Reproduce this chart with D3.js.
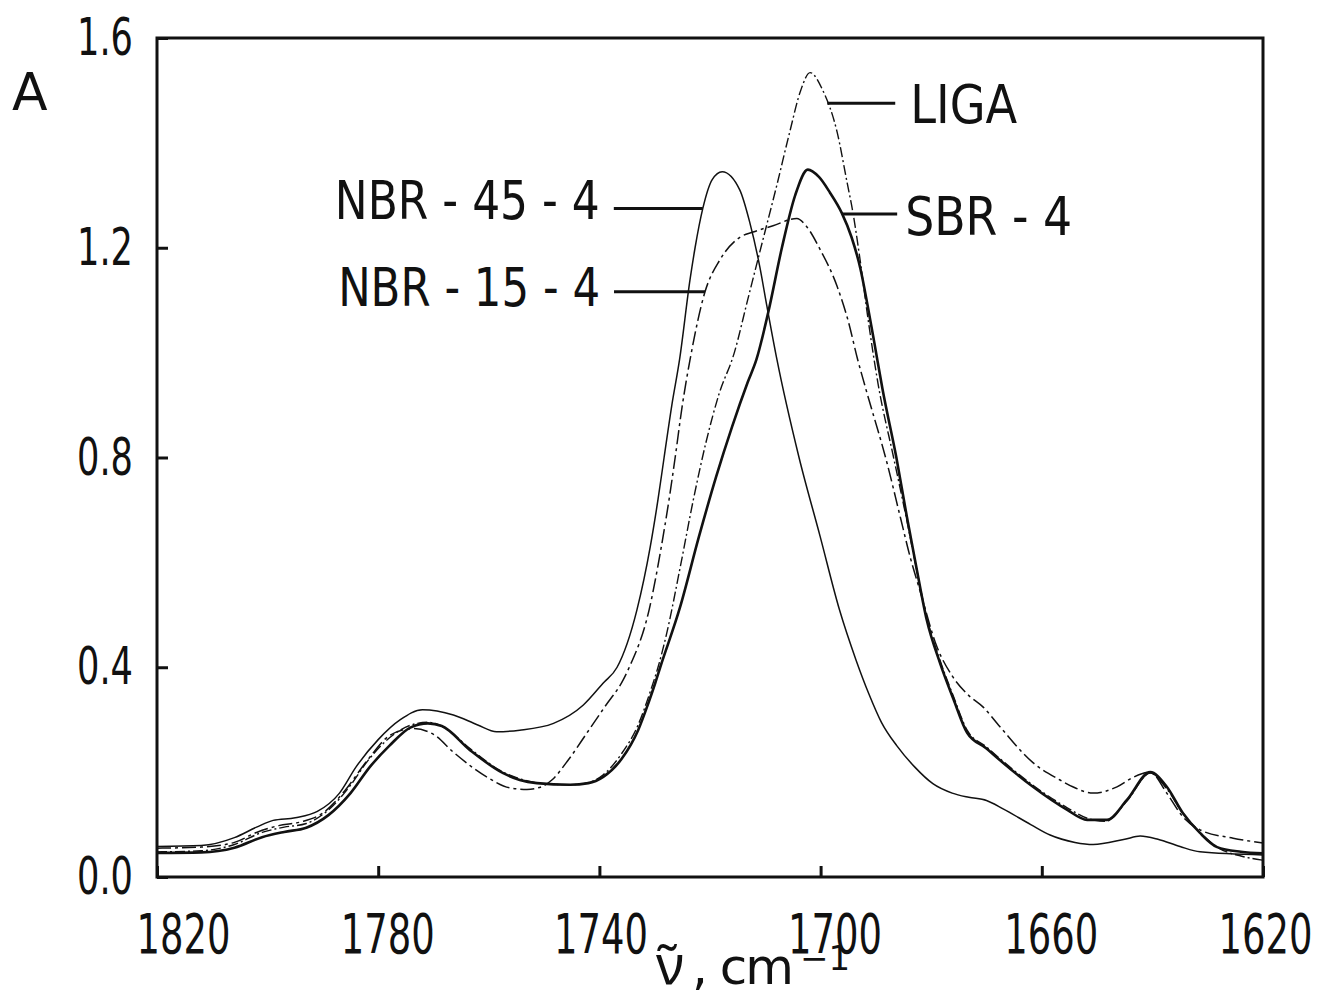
<!DOCTYPE html>
<html>
<head>
<meta charset="utf-8">
<script src="https://cdn.jsdelivr.net/npm/d3@7"></script>
<style>
  body { margin: 0; background: #fff; }
  svg text { font-family: "DejaVu Sans", sans-serif; fill: #111; }
</style>
</head>
<body>
<svg id="chart" width="1327" height="1002"></svg>
<script>
// Carbonyl-region IR absorbance spectra: [wavenumber cm-1, absorbance]
const LIGA = [
  [1820,0.048],[1812,0.05],[1806,0.062],[1801,0.085],[1797,0.095],[1793,0.102],[1789,0.128],
  [1785,0.175],[1782,0.22],[1778,0.265],[1774,0.29],[1771,0.295],[1768,0.285],[1763.4,0.245],
  [1757.4,0.2],[1754,0.186],[1750,0.178],[1745.3,0.176],[1742,0.18],[1739.3,0.195],[1736,0.235],
  [1733,0.29],[1730.6,0.36],[1729.4,0.4],[1727.8,0.466],[1725.4,0.59],[1723,0.72],[1720.7,0.83],
  [1718.4,0.92],[1715.6,1.0],[1713.2,1.1],[1710.8,1.2],[1707.9,1.32],[1705.6,1.42],[1703.6,1.5],
  [1701.9,1.534],[1699.6,1.5],[1697,1.42],[1695.2,1.324],[1694.2,1.27],[1692.9,1.18],
  [1691.5,1.07],[1689.6,0.94],[1686.8,0.8],[1684.6,0.69],[1682.7,0.59],[1680.8,0.495],
  [1678.3,0.41],[1676,0.345],[1673.5,0.28],[1670,0.248],[1667.6,0.226],[1661.6,0.175],
  [1655.4,0.132],[1651.8,0.112],[1648.5,0.106],[1644.6,0.145],[1640.4,0.198],[1637.4,0.168],
  [1634.5,0.122],[1631.4,0.085],[1628,0.055],[1624,0.04],[1620,0.032]
];
const SBR4 = [
  [1820,0.046],[1812,0.047],[1806,0.056],[1801,0.076],[1797,0.086],[1793,0.094],[1789,0.118],
  [1785,0.16],[1781.5,0.21],[1778,0.25],[1774.2,0.285],[1771,0.293],[1768.5,0.288],[1763.4,0.242],
  [1757.4,0.198],[1754.4,0.185],[1751.3,0.179],[1745.3,0.176],[1742,0.179],[1739.3,0.191],
  [1736,0.225],[1733,0.28],[1731.2,0.33],[1729.9,0.37],[1729,0.4],[1725.4,0.515],[1722,0.649],
  [1718.9,0.763],[1716,0.859],[1713.2,0.943],[1711.6,0.987],[1709.4,1.08],[1707,1.2],
  [1704.6,1.3],[1702.3,1.349],[1700.3,1.335],[1698.3,1.305],[1696.2,1.267],[1694.4,1.22],
  [1692.8,1.16],[1691.5,1.09],[1690.3,1.02],[1688.8,0.93],[1686.3,0.8],[1684.4,0.687],
  [1682.6,0.586],[1680.8,0.49],[1678.4,0.408],[1676,0.34],[1673.5,0.275],[1670,0.245],
  [1667.6,0.223],[1661.6,0.172],[1655.4,0.128],[1651.8,0.109],[1648.2,0.109],[1644.6,0.147],
  [1640.4,0.2],[1637.4,0.172],[1634.5,0.122],[1631.4,0.084],[1628.3,0.057],[1624,0.048],[1620,0.045]
];
const NBR45 = [
  [1820,0.058],[1812,0.06],[1806,0.075],[1802,0.095],[1799,0.108],[1795,0.113],[1791,0.125],
  [1787,0.16],[1784,0.21],[1780,0.262],[1776,0.3],[1772,0.319],[1766.4,0.309],[1762,0.29],
  [1758.6,0.277],[1754.4,0.28],[1748.3,0.293],[1742.9,0.328],[1739.3,0.37],[1736.8,0.4],
  [1733.2,0.51],[1730.8,0.63],[1729.4,0.72],[1728.3,0.8],[1726.9,0.9],[1725.5,0.987],
  [1723.6,1.14],[1722.7,1.2],[1721.3,1.275],[1719.6,1.33],[1717.8,1.345],[1714.6,1.31],
  [1712.8,1.248],[1711,1.164],[1709.7,1.088],[1707.9,0.987],[1703.9,0.8],[1700.1,0.65],
  [1696.6,0.51],[1693.6,0.414],[1691.3,0.35],[1689,0.295],[1686.2,0.25],[1683,0.21],
  [1679.7,0.178],[1676.2,0.16],[1673.2,0.152],[1670,0.146],[1667,0.13],[1662,0.1],
  [1658.5,0.08],[1654,0.066],[1650.7,0.062],[1645,0.072],[1642.2,0.078],[1639,0.072],
  [1635,0.058],[1631.4,0.048],[1620,0.042]
];
const NBR15 = [
  [1820,0.055],[1812,0.057],[1806,0.066],[1802,0.085],[1798,0.098],[1794,0.105],[1790,0.122],
  [1786,0.165],[1782,0.222],[1777.9,0.27],[1773.7,0.283],[1770,0.272],[1766.4,0.238],
  [1760.4,0.191],[1756.2,0.17],[1753.1,0.167],[1750.5,0.172],[1748.6,0.185],[1745.5,0.225],
  [1742.3,0.274],[1739,0.325],[1735.7,0.376],[1734.6,0.4],[1731,0.51],[1728.8,0.63],
  [1727.4,0.72],[1726.3,0.8],[1725,0.9],[1723.6,0.987],[1720.9,1.116],[1718.2,1.177],
  [1714.6,1.22],[1712.2,1.23],[1708.6,1.242],[1704.3,1.256],[1702.5,1.24],[1700.1,1.197],
  [1697,1.126],[1695,1.06],[1693.3,0.987],[1691.8,0.93],[1688,0.79],[1685.6,0.687],[1683.8,0.61],
  [1682,0.545],[1679,0.44],[1676.3,0.385],[1673.6,0.35],[1670.6,0.324],[1667.6,0.287],
  [1661.6,0.218],[1656.7,0.185],[1654.4,0.172],[1650.7,0.16],[1646.4,0.172],[1643.5,0.19],
  [1640.4,0.2],[1637.4,0.16],[1634.5,0.115],[1631.4,0.09],[1625.4,0.074],[1620,0.065]
];

const xTicks = [1820, 1780, 1740, 1700, 1660, 1620];
const yTicks = [0.0, 0.4, 0.8, 1.2, 1.6];

// Curve styles and the wavenumber where each label's leader meets its curve
const series = [
  { name: "NBR - 45 - 4", data: NBR45, width: 1.5, dash: null,        at: 1721.3, side: "left"  },
  { name: "NBR - 15 - 4", data: NBR15, width: 1.5, dash: "14,4,3,4",  at: 1720.9, side: "left"  },
  { name: "LIGA",         data: LIGA,  width: 1.4, dash: "10,3,2,3",  at: 1698.8, side: "right" },
  { name: "SBR - 4",      data: SBR4,  width: 2.6, dash: null,        at: 1696.1, side: "right" }
];

const svg = d3.select("#chart");
const x = d3.scaleLinear().domain([1820, 1620]).range([157, 1263]);
const y = d3.scaleLinear().domain([0, 1.6]).range([877, 38]);

// narrow lettering: squeeze a text horizontally about its anchor point
function squeeze(sel, width) {
  sel.each(function () {
    const t = d3.select(this);
    const w = this.getComputedTextLength();
    const s = width / w;
    const tx = +t.attr("x") || 0, ty = +t.attr("y") || 0;
    t.attr("transform", `translate(${tx},${ty}) scale(${s},1) translate(${-tx},${-ty})`);
  });
}

// plot frame
svg.append("rect")
  .attr("x", x(1820)).attr("y", y(1.6))
  .attr("width", x(1620) - x(1820)).attr("height", y(0) - y(1.6))
  .attr("fill", "none").attr("stroke", "#111").attr("stroke-width", 3);

// y axis: inward ticks, labels at the left
const yAxis = svg.append("g")
  .attr("transform", `translate(${x(1820)},0)`)
  .call(d3.axisLeft(y).tickValues(yTicks).tickFormat(d3.format(".1f"))
    .tickSizeInner(-11).tickSizeOuter(0).tickPadding(24));
yAxis.select(".domain").remove();
yAxis.selectAll(".tick line").attr("stroke", "#111").attr("stroke-width", 3);
yAxis.selectAll(".tick text").attr("font-size", 52).attr("fill", "#111")
  .call(squeeze, 56);

// x axis: inward ticks, hand-lettered labels sit a little right of their ticks
const xLabelShift = d => d === 1820 ? 26 : d === 1620 ? 2 : d === 1740 ? 1 : d === 1700 ? 14 : 9;
const xAxis = svg.append("g")
  .attr("transform", `translate(0,${y(0)})`)
  .call(d3.axisBottom(x).tickValues(xTicks).tickFormat(d3.format("d"))
    .tickSizeInner(-11).tickSizeOuter(0).tickPadding(36));
xAxis.select(".domain").remove();
xAxis.selectAll(".tick line").attr("stroke", "#111").attr("stroke-width", 3);
xAxis.selectAll(".tick text").attr("font-size", 56).attr("fill", "#111")
  .attr("x", xLabelShift)
  .call(squeeze, 94);

// spectra
const line = d3.line()
  .x(d => x(d[0]))
  .y(d => y(d[1]))
  .curve(d3.curveMonotoneX);

svg.append("g").selectAll("path")
  .data(series)
  .join("path")
  .attr("d", d => line(d.data))
  .attr("fill", "none")
  .attr("stroke", "#111")
  .attr("stroke-width", d => d.width)
  .attr("stroke-dasharray", d => d.dash)
  .attr("stroke-linejoin", "round");

// absorbance of a series at a wavenumber (linear between samples)
function valueAt(data, wn) {
  for (let i = 0; i < data.length - 1; i++) {
    const [w0, a0] = data[i], [w1, a1] = data[i + 1];
    if (wn <= w0 && wn >= w1) return a0 + (a1 - a0) * (w0 - wn) / (w0 - w1);
  }
  return data[data.length - 1][1];
}

// leader lines and curve names
const labelStyle = {
  "LIGA":         { len: 68, gap: 15, width: 107, dy: 20 },
  "SBR - 4":      { len: 55, gap: 8,  width: 167, dy: 21 },
  "NBR - 45 - 4": { len: 89, gap: 14, width: 265, dy: 11 },
  "NBR - 15 - 4": { len: 91, gap: 14, width: 262, dy: 14 }
};
const labels = svg.append("g");
series.forEach(s => {
  const st = labelStyle[s.name];
  const px = x(s.at), py = y(valueAt(s.data, s.at));
  const x2 = s.side === "right" ? px + st.len : px - st.len;
  labels.append("line")
    .attr("x1", px).attr("y1", py).attr("x2", x2).attr("y2", py)
    .attr("stroke", "#111").attr("stroke-width", 3);
  labels.append("text")
    .attr("x", s.side === "right" ? x2 + st.gap : x2 - st.gap)
    .attr("y", py + st.dy)
    .attr("text-anchor", s.side === "right" ? "start" : "end")
    .attr("font-size", 53)
    .text(s.name)
    .call(squeeze, st.width);
});

// axis titles
svg.append("text").attr("x", 12).attr("y", 110).attr("font-size", 52).text("A");

// wavenumber symbol (nu with combining tilde), then the unit with superscript
const xt = svg.append("text").attr("font-size", 54);
xt.append("tspan").attr("x", 656).attr("y", 984)
  .style("font-family", "'Noto Sans', sans-serif").text("\u03BD\u0303");
xt.append("tspan").attr("x", 692).attr("y", 984).attr("font-size", 50)
  .attr("letter-spacing", -2).text(", cm");
xt.append("tspan").attr("x", 800).attr("y", 970).attr("font-size", 34).text("\u22121");
</script>
</body>
</html>
